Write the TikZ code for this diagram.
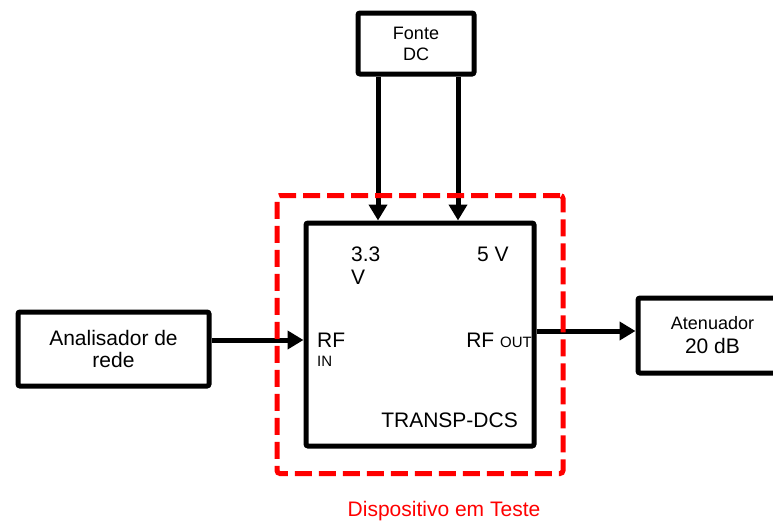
\documentclass[tikz,border=0pt]{standalone}
\usepackage{fontspec}
\setmainfont{Liberation Sans}
\usetikzlibrary{arrows.meta, positioning}
\definecolor{cDut}{HTML}{FF0000}

\begin{document}
\begin{tikzpicture}[x=1pt, y=-1pt,
    blk/.style={draw, line width=5pt, rounded corners=2pt, fill=white,
                inner sep=0pt, align=center},
    ar/.style={-{Triangle[length=16pt,width=18pt]}, line width=5pt},
    lbl/.style={inner sep=0pt, font=\fontsize{21}{23}\selectfont},
    frm/.style={draw=cDut, line width=5pt, dash pattern=on 17pt off 7pt,
                rounded corners=3pt, inner sep=0pt},
]
\clip (0,0) rectangle (773,522);

% === device under test ===
\node[blk, minimum width=228pt, minimum height=223pt] (dut) at (420,334.5) {};

% labels inside the box
\node[lbl, anchor=base west, align=left] (v33) at ([shift={(-69,-50.5)}]dut.center) {3.3\\V};
\node[lbl, anchor=base west] (v5) at ([shift={(57,-73.5)}]dut.center) {5 V};
\node[lbl, anchor=base west, align=left] (rfin) at ([shift={(-103,31.5)}]dut.center)
    {RF\\[-4pt]{\fontsize{15}{17}\selectfont IN}};
\node[lbl, anchor=base east] (rfout) at ([shift={(112,12.5)}]dut.center)
    {RF {\fontsize{15}{17}\selectfont OUT}};
\node[lbl, anchor=base east] (nome) at ([shift={(98,92.5)}]dut.center) {TRANSP-DCS};

% === outer blocks ===
\node[blk, minimum width=116pt, minimum height=61pt, above=144pt of dut, xshift=-4pt,
      font=\fontsize{18}{21}\selectfont] (fonte) {Fonte\\DC};
\node[blk, minimum width=191pt, minimum height=74pt, left=92pt of dut, yshift=-14.5pt,
      font=\fontsize{21}{22}\selectfont] (ana) {Analisador de\\rede};
\node[blk, minimum width=149pt, minimum height=75pt, right=99pt of dut, yshift=-1pt,
      font=\fontsize{21}{24}\selectfont]
    (att) {{\fontsize{18}{20}\selectfont Atenuador}\\20 dB};

% === connections ===
\draw[ar] ([xshift=-38pt]fonte.south) -- ([xshift=-38pt]fonte.south |- dut.north);
\draw[ar] ([xshift=42pt]fonte.south) -- ([xshift=42pt]fonte.south |- dut.north);
\draw[ar] ([yshift=9pt]ana.east) -- ([yshift=9pt]ana.east -| dut.west);
\draw[ar] ([yshift=3.5pt]dut.east) -- ([yshift=3.5pt]dut.east -| att.west);

% === test frame ===
\node[frm, minimum width=286pt, minimum height=278pt] (teste) at (dut) {};
\node[lbl, anchor=base, text=cDut] (tlbl) at ([shift={(24,40.5)}]teste.south)
    {Dispositivo em Teste};

\end{tikzpicture}
\end{document}
